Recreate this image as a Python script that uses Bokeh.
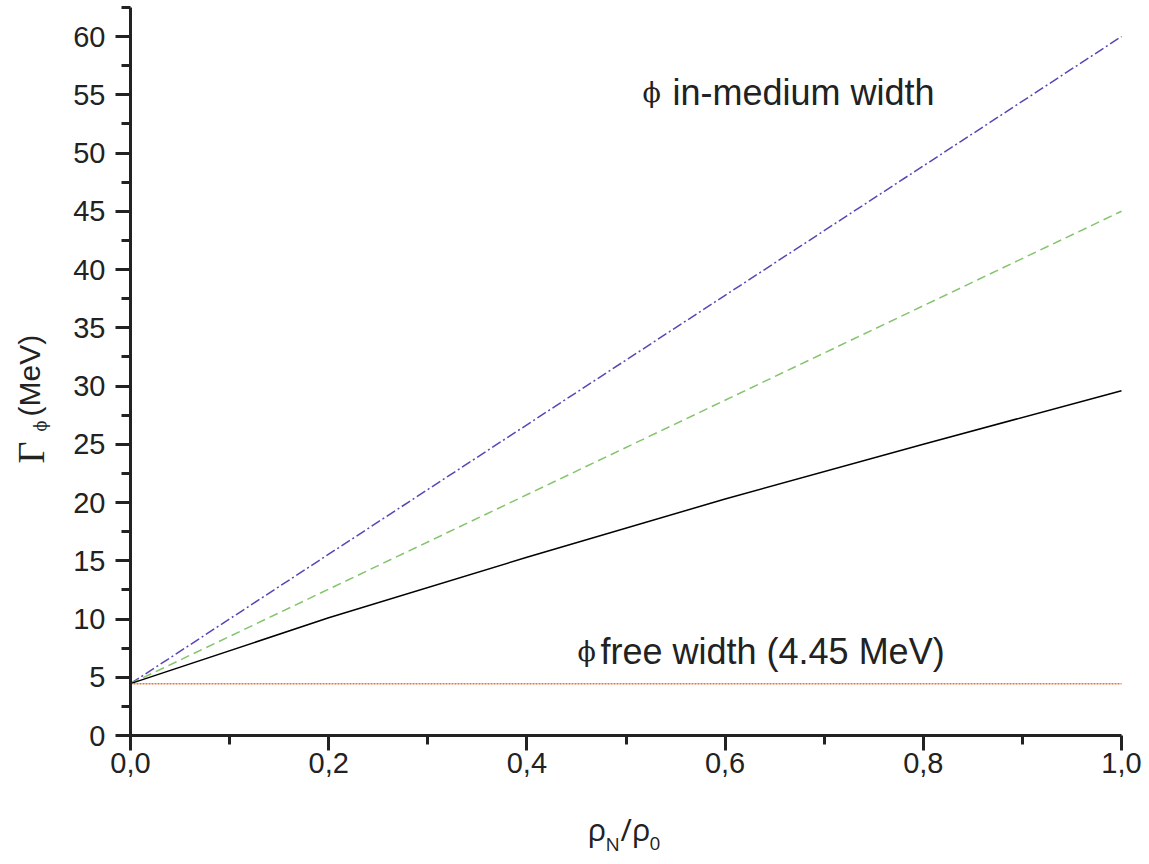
import math
from bokeh.plotting import figure
from bokeh.models import Range1d, FixedTicker, CustomJSTickFormatter, Label
from bokeh.embed import file_html
from bokeh.resources import INLINE

# ---- data ----
density_black = [0.0, 0.2, 0.4, 0.6, 0.8, 1.0]
width_black = [4.45, 10.1, 15.3, 20.3, 25.0, 29.6]
density_lin = [0.0, 1.0]
width_blue = [4.45, 60.0]
width_green = [4.45, 45.0]
width_free = [4.45, 4.45]

x_ticks = [0.0, 0.2, 0.4, 0.6, 0.8, 1.0]
x_minor = [0.1, 0.3, 0.5, 0.7, 0.9]
y_ticks = [0, 5, 10, 15, 20, 25, 30, 35, 40, 45, 50, 55, 60]
y_minor = [2.5, 7.5, 12.5, 17.5, 22.5, 27.5, 32.5, 37.5, 42.5, 47.5, 52.5, 57.5, 62.5]

# ---- layout (pixel geometry of the frame) ----
W, H = 1149, 864
X0, X1 = 130.0, 1121.0      # pixel of x = 0 and x = 1
Y0, Y60 = 735.0, 36.0       # pixel of y = 0 and y = 60
xs = (X1 - X0) / 1.0
ys = (Y0 - Y60) / 60.0

def px(X):
    return (X - X0) / xs

def py(Y):
    return (Y0 - Y) / ys

p = figure(width=W, height=H,
           x_range=Range1d(px(0), px(W)), y_range=Range1d(py(H), py(0)),
           output_backend="svg", toolbar_location=None,
           min_border_left=0, min_border_right=0, min_border_top=0, min_border_bottom=0)
p.grid.visible = False
p.outline_line_color = None
p.background_fill_color = "white"
p.border_fill_color = "white"

p.line(density_lin, width_blue, line_color="#5a45b5", line_width=1.5, line_dash="10 3 2 3")
p.line(density_lin, width_green, line_color="#84c46c", line_width=1.5, line_dash="9 5")
p.line(density_black, width_black, line_color="black", line_width=1.5)
p.line(density_lin, width_free, line_color="#e8703a", line_width=1.5, line_dash="2 1")

p.xaxis.ticker = FixedTicker(ticks=x_ticks, minor_ticks=x_minor)
p.yaxis.ticker = FixedTicker(ticks=y_ticks, minor_ticks=y_minor)
p.xaxis.formatter = CustomJSTickFormatter(code="return tick.toFixed(1).replace('.', ',');")
p.xaxis.fixed_location = 0
p.yaxis.fixed_location = 0
p.xaxis.bounds = (0, 1.0)
p.yaxis.bounds = (0, 62.5)

for ax in (p.xaxis[0], p.yaxis[0]):
    ax.axis_line_width = 3
    ax.axis_line_color = "#222222"
    ax.major_tick_line_width = 3
    ax.minor_tick_line_width = 3
    ax.major_tick_line_color = "#222222"
    ax.minor_tick_line_color = "#222222"
    ax.major_tick_out = 15
    ax.major_tick_in = 0
    ax.minor_tick_out = 9
    ax.minor_tick_in = 0
    ax.major_label_text_font = "Liberation Sans"
    ax.major_label_text_font_size = "29px"
    ax.major_label_text_color = "#222222"
p.xaxis.major_label_standoff = 2
p.yaxis.major_label_standoff = 10

def lab(text, X, Y, size, font="Liberation Sans", angle=0.0):
    p.add_layout(Label(x=px(X), y=py(Y), text=text,
                       text_font=font, text_font_size=size, text_color="#222222",
                       text_align="left", text_baseline="alphabetic", angle=angle))

# annotations in the plot
lab("ϕ", 642, 92, "27px", "DejaVu Serif")
lab("in-medium width", 672, 92, "36px")
lab("ϕ", 577, 651, "27px", "DejaVu Serif")
lab("free width (4.45 MeV)", 600, 651, "36px")

# y axis label
lab("Γ", 30, 463, "38px", "Liberation Serif", math.pi / 2)
lab("ϕ", 40, 431, "16px", "DejaVu Serif", math.pi / 2)
lab("(MeV)", 29, 416, "30px", "Liberation Sans", math.pi / 2)

# x axis label
lab("ρ", 587, 828, "31px", "Open Sans")
lab("N", 605, 843, "19px", "Open Sans")
lab("/ρ", 620, 828, "31px", "Open Sans")
lab("0", 649, 843, "19px", "Open Sans")

open("out.html", "w").write(file_html(p, INLINE))
